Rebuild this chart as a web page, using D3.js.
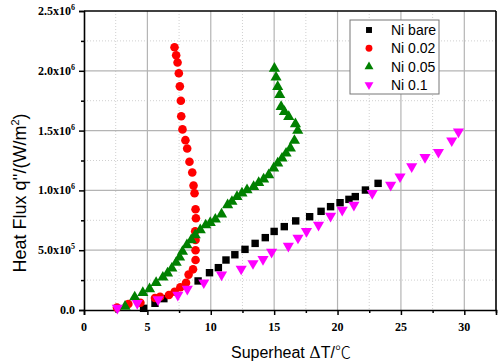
<!DOCTYPE html>
<html>
<head>
<meta charset="utf-8">
<script src="https://cdn.jsdelivr.net/npm/d3@7"></script>
<style>
  body { margin: 0; background: #fff; }
  .tick-lbl { font-family: "Liberation Serif", "Times New Roman", serif; font-weight: bold; font-size: 12px; }
  .ttl { font-family: "Liberation Sans", Arial, sans-serif; }
</style>
</head>
<body>
<div id="chart"></div>
<script>
// Ni bare (black squares)
var bareX = [4.7, 5.6, 6.3, 9.0, 9.9, 10.6, 11.2, 11.9, 12.7, 13.5, 14.3, 15.0, 15.8, 16.7, 17.8, 18.7, 19.45, 20.2, 20.9, 21.4, 22.2, 23.2];
var bareY = [0.014, 0.056, 0.095, 0.243, 0.312, 0.354, 0.418, 0.462, 0.507, 0.557, 0.605, 0.657, 0.697, 0.745, 0.78, 0.825, 0.864, 0.897, 0.925, 0.948, 1.003, 1.059];

// Ni 0.02 (red circles)
var n02X = [2.6, 3.5, 4.45, 5.6, 6.0, 6.7, 7.15, 7.6, 8.05, 8.25, 8.6, 8.8, 8.8, 8.8, 8.77, 8.83, 8.8, 8.72, 8.64, 8.54, 8.32, 8.14, 8.0, 7.77, 7.67, 7.64, 7.56, 7.48, 7.38, 7.27, 7.14];
var n02Y = [0.02, 0.05, 0.06, 0.1, 0.111, 0.125, 0.153, 0.19, 0.228, 0.296, 0.34, 0.418, 0.5, 0.585, 0.658, 0.767, 0.842, 0.976, 1.04, 1.15, 1.24, 1.35, 1.42, 1.51, 1.62, 1.75, 1.87, 1.98, 2.07, 2.13, 2.197];

// Ni 0.05 (green triangles)
var n05X = [3.24, 4.0, 4.64, 5.17, 5.69, 6.22, 6.59, 6.93, 7.27, 7.54, 7.77, 8.12, 8.46, 8.77, 9.17, 9.6, 9.96, 10.36, 10.85, 11.33, 11.67, 12.07, 12.46, 12.86, 13.38, 13.78, 14.17, 14.57, 14.96, 15.28, 15.62, 15.94, 16.28, 16.6, 16.86, 16.68, 16.15, 15.81, 15.55, 15.44, 15.28, 15.15, 15.02];
var n05Y = [0.03, 0.108, 0.145, 0.176, 0.228, 0.273, 0.307, 0.348, 0.396, 0.44, 0.488, 0.543, 0.585, 0.627, 0.669, 0.71, 0.73, 0.758, 0.8, 0.878, 0.906, 0.947, 0.976, 1.003, 1.03, 1.064, 1.093, 1.129, 1.185, 1.227, 1.268, 1.31, 1.352, 1.416, 1.5, 1.555, 1.616, 1.658, 1.7, 1.8, 1.867, 1.945, 2.02];

// Ni 0.1 (magenta down triangles)
var n10X = [2.63, 4.2, 5.85, 7.4, 8.15, 9.45, 10.85, 12.4, 13.33, 14.12, 14.8, 16.12, 16.88, 17.55, 18.5, 19.45, 20.37, 21.29, 22.74, 24.19, 24.93, 25.85, 26.9, 27.96, 29.01, 29.54];
var n10Y = [0.017, 0.056, 0.087, 0.125, 0.176, 0.229, 0.295, 0.344, 0.39, 0.424, 0.485, 0.535, 0.603, 0.658, 0.71, 0.786, 0.836, 0.878, 0.976, 1.045, 1.115, 1.2, 1.277, 1.32, 1.416, 1.49];

var xTicks = [0, 5, 10, 15, 20, 25, 30];
var yTicks = [0, 0.5, 1.0, 1.5, 2.0, 2.5];
var yTickMant = ["0.0", "5.0", "1.0", "1.5", "2.0", "2.5"];
var yTickExp = ["", "5", "6", "6", "6", "6"];

var series = [
    {name: "Ni bare", xs: bareX, ys: bareY, color: "#000000", shape: "square"},
    {name: "Ni 0.02", xs: n02X, ys: n02Y, color: "#ff0000", shape: "circle"},
    {name: "Ni 0.05", xs: n05X, ys: n05Y, color: "#008000", shape: "up"},
    {name: "Ni 0.1", xs: n10X, ys: n10Y, color: "#ff00ff", shape: "down"}
];

var margin = {top: 11, right: 4, bottom: 53, left: 84};
var W = 500, H = 363;
var width = W - margin.left - margin.right;
var height = H - margin.top - margin.bottom;

var svg = d3.select("#chart").append("svg")
    .attr("width", W)
    .attr("height", H);

var g = svg.append("g")
    .attr("transform", "translate(" + margin.left + "," + margin.top + ")");

var x = d3.scaleLinear().domain([0, 32.5]).range([0, width]);
var y = d3.scaleLinear().domain([0, 2.5]).range([height, 0]);

// grid - minor dotted
var minorX = d3.range(2.5, 32.5, 5);
var minorY = d3.range(0.25, 2.5, 0.5);
g.selectAll(".mgx").data(minorX).enter().append("line")
    .attr("x1", d => x(d)).attr("x2", d => x(d))
    .attr("y1", 0).attr("y2", height)
    .attr("stroke", "#d0d0d0").attr("stroke-dasharray", "1,2");
g.selectAll(".mgy").data(minorY).enter().append("line")
    .attr("y1", d => y(d)).attr("y2", d => y(d))
    .attr("x1", 0).attr("x2", width)
    .attr("stroke", "#d0d0d0").attr("stroke-dasharray", "1,2");
// grid - major solid
g.selectAll(".gx").data(xTicks.slice(1)).enter().append("line")
    .attr("x1", d => x(d)).attr("x2", d => x(d))
    .attr("y1", 0).attr("y2", height)
    .attr("stroke", "#b4b4b4").attr("stroke-width", 1.2);
g.selectAll(".gy").data(yTicks.slice(1, 5)).enter().append("line")
    .attr("y1", d => y(d)).attr("y2", d => y(d))
    .attr("x1", 0).attr("x2", width)
    .attr("stroke", "#b4b4b4").attr("stroke-width", 1.2);

// axes
var xAxis = g.append("g").attr("transform", "translate(0," + height + ")")
    .call(d3.axisBottom(x).tickValues(d3.range(0, 32.6, 2.5)).tickSize(5).tickFormat(""));
xAxis.selectAll(".tick line").attr("y2", (d, i) => d % 5 === 0 ? 5 : 3).attr("stroke-width", 1.5);
xAxis.select(".domain").attr("stroke-width", 1.6);

var yAxis = g.append("g")
    .call(d3.axisLeft(y).tickValues(d3.range(0, 2.51, 0.25)).tickSize(5).tickFormat(""));
yAxis.selectAll(".tick line").attr("x2", d => Math.abs(d * 2 - Math.round(d * 2)) < 1e-6 ? -5 : -3).attr("stroke-width", 1.5);
yAxis.select(".domain").attr("stroke-width", 1.6);

// frame top/right
g.append("line").attr("x1", 0).attr("x2", width).attr("y1", 0).attr("y2", 0).attr("stroke", "#000").attr("stroke-width", 1.6);
g.append("line").attr("x1", width).attr("x2", width).attr("y1", 0).attr("y2", height).attr("stroke", "#000").attr("stroke-width", 1.6);

// tick labels
g.selectAll(".xl").data(xTicks).enter().append("text")
    .attr("class", "tick-lbl")
    .attr("x", d => x(d)).attr("y", height + 21)
    .attr("text-anchor", "middle")
    .text(d => d);

var yl = g.selectAll(".yl").data(yTicks).enter().append("text")
    .attr("class", "tick-lbl")
    .attr("x", -9).attr("y", d => y(d) + 4)
    .attr("text-anchor", "end");
yl.append("tspan").text((d, i) => yTickMant[i] + (yTickExp[i] ? "x10" : ""));
yl.append("tspan").attr("dy", -5).attr("font-size", "8px").text((d, i) => yTickExp[i]);

// symbols
function sym(shape) {
    if (shape === "square") return d3.symbol().type(d3.symbolSquare).size(55)();
    if (shape === "circle") return d3.symbol().type(d3.symbolCircle).size(58)();
    return d3.symbol().type(d3.symbolTriangle).size(54)();
}

series.forEach(function (s) {
    var pts = s.xs.map((v, i) => ({x: v, y: s.ys[i]}));
    g.selectAll(null).data(pts).enter().append("path")
        .attr("d", sym(s.shape))
        .attr("transform", d => "translate(" + x(d.x) + "," + y(d.y) + ")" + (s.shape === "down" ? " rotate(180)" : ""))
        .attr("fill", s.color);
});

// legend
var lg = svg.append("g").attr("transform", "translate(350,20)");
lg.append("rect").attr("width", 89).attr("height", 74)
    .attr("fill", "#fff").attr("stroke", "#777").attr("stroke-width", 1);
series.forEach(function (s, i) {
    var yy = 10 + i * 18.3;
    lg.append("path").attr("d", sym(s.shape))
        .attr("transform", "translate(19," + yy + ")" + (s.shape === "down" ? " rotate(180)" : "") + " scale(0.8)")
        .attr("fill", s.color);
    lg.append("text").attr("class", "ttl")
        .attr("x", 41).attr("y", yy + 5)
        .attr("font-size", "14px")
        .text(s.name);
});

// axis titles
var xt = svg.append("text").attr("class", "ttl")
    .attr("x", 291).attr("y", 358)
    .attr("text-anchor", "middle").attr("font-size", "16px");
xt.append("tspan").text("Superheat ");
xt.append("tspan").attr("font-family", "'DejaVu Serif', serif").attr("font-weight", "300").text("\u0394");
xt.append("tspan").text("T/");
xt.append("tspan").attr("font-family", "'Noto Sans CJK SC', sans-serif").attr("font-weight", "300").text("\u2103");

var yt = svg.append("text").attr("class", "ttl")
    .attr("transform", "translate(26,193) rotate(-90)")
    .attr("text-anchor", "middle").attr("font-size", "18px");
yt.append("tspan").text("Heat Flux q''/(W/m");
yt.append("tspan").attr("dy", -7).attr("font-size", "11px").text("2");
yt.append("tspan").attr("dy", 7).text(")");
</script>
</body>
</html>
